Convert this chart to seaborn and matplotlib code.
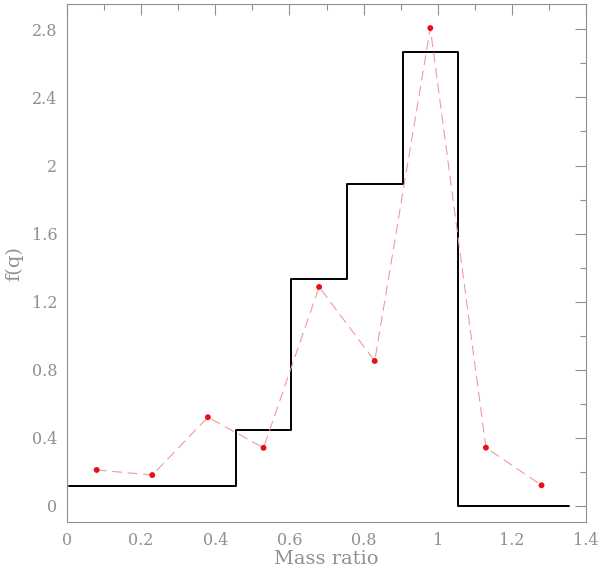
import matplotlib
matplotlib.use("Agg")
import numpy as np
import pandas as pd
import matplotlib.pyplot as plt
import seaborn as sns
from matplotlib.ticker import MultipleLocator, FuncFormatter

# histogram (black steps)
bin_edges = [0.005, 0.155, 0.305, 0.455, 0.605, 0.755, 0.905, 1.055, 1.205, 1.355]
bin_heights = [0.114, 0.114, 0.114, 0.445, 1.333, 1.891, 2.667, 0.0, 0.0]

# red points
q_mid = [0.08, 0.23, 0.38, 0.53, 0.68, 0.83, 0.98, 1.13, 1.28]
f_q = [0.21, 0.18, 0.52, 0.34, 1.286, 0.851, 2.808, 0.341, 0.12]

GREY = "#909090"

sns.set_style("white")
plt.rcParams["font.family"] = ["DejaVu Serif"]

fig = plt.figure(figsize=(6, 5.7), dpi=100)
ax = fig.add_axes([0.1117, 0.0842, 0.865, 0.9083])

steps = pd.DataFrame({"q": bin_edges, "f": bin_heights + [bin_heights[-1]]})
sns.lineplot(x="q", y="f", data=steps, estimator=None, sort=False,
             drawstyle="steps-post", color="black", lw=1.4, ax=ax)

pts = pd.DataFrame({"q": q_mid, "f": f_q})
ax.plot(pts.q, pts.f, color="#f29a9a", lw=0.8, dashes=(9, 5))
sns.scatterplot(x="q", y="f", data=pts, color="#e8101a", s=18,
                edgecolor="none", ax=ax, zorder=3)

ax.set_xlim(0, 1.4)
ax.set_ylim(-0.096, 2.948)

fmt = FuncFormatter(lambda v, p: f"{v:.1f}".rstrip("0").rstrip(".") if abs(v) > 1e-9 else "0")
ax.xaxis.set_major_locator(MultipleLocator(0.2))
ax.xaxis.set_minor_locator(MultipleLocator(0.1))
ax.yaxis.set_major_locator(MultipleLocator(0.4))
ax.yaxis.set_minor_locator(MultipleLocator(0.2))
ax.xaxis.set_major_formatter(fmt)
ax.yaxis.set_major_formatter(fmt)

ax.tick_params(which="both", direction="in", top=True, right=True,
               color=GREY, width=0.8, labelcolor=GREY, labelsize=11.5)
ax.tick_params(which="major", length=8, pad=7)
ax.tick_params(which="minor", length=4)
for s in ax.spines.values():
    s.set_color(GREY)
    s.set_linewidth(0.8)

ax.set_xlabel("Mass ratio", color=GREY, fontsize=14, labelpad=1)
ax.set_ylabel("f(q)", color=GREY, fontsize=14, labelpad=6)

fig.savefig("out.png", dpi=100)
